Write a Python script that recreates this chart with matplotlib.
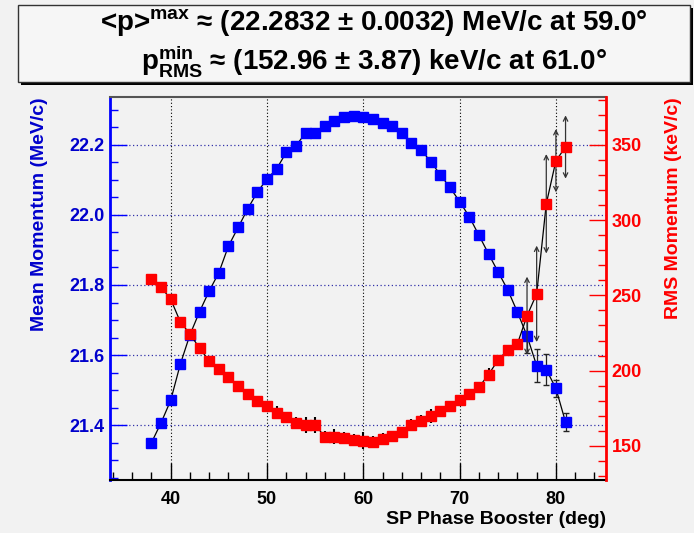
import numpy as np
import matplotlib
matplotlib.use("Agg")
import matplotlib.pyplot as plt
from matplotlib.patches import Rectangle
from matplotlib.ticker import MultipleLocator, FormatStrFormatter

plt.rcParams["font.family"] = ["Liberation Sans", "DejaVu Sans"]
plt.rcParams["font.weight"] = "bold"
plt.rcParams["axes.labelweight"] = "bold"
plt.rcParams["mathtext.fontset"] = "custom"
plt.rcParams["mathtext.rm"] = "Liberation Sans:bold"
plt.rcParams["mathtext.bf"] = "Liberation Sans:bold"
plt.rcParams["mathtext.default"] = "rm"

# SP phase booster scan
phase = np.arange(38, 82)

mean_p = [21.350, 21.407, 21.471, 21.574, 21.658, 21.724, 21.783, 21.835,
          21.911, 21.964, 22.017, 22.065, 22.102, 22.131, 22.178, 22.197,
          22.233, 22.233, 22.252, 22.267, 22.279, 22.283, 22.280, 22.272,
          22.263, 22.253, 22.233, 22.205, 22.185, 22.152, 22.114, 22.078,
          22.038, 21.995, 21.942, 21.889, 21.837, 21.786, 21.723, 21.655,
          21.570, 21.559, 21.505, 21.409]
mean_err = [0.004] * 37 + [0.008, 0.010, 0.050, 0.047, 0.044, 0.023, 0.026]
mean_err = mean_err[:44]

rms_p = [260.8, 255.4, 247.5, 232.4, 224.4, 214.9, 206.5, 201.0, 195.6, 189.9,
         184.6, 179.9, 176.6, 172.1, 169.5, 165.5, 164.0, 164.0, 156.2, 156.0,
         155.5, 154.0, 153.5, 152.96, 154.9, 156.6, 159.5, 163.8, 166.6, 169.9,
         173.5, 176.6, 180.6, 184.6, 189.0, 197.4, 207.1, 213.8, 217.8, 236.4,
         251.0, 310.8, 339.4, 348.5]
rms_err = [2, 2, 2, 2, 2, 2, 2, 2, 2, 2, 2, 2, 2, 4.5, 3, 4, 5.5, 5.5, 4, 5,
           4, 4, 5.5, 3.87, 4, 3, 3, 4, 4, 4.5, 3, 3, 3, 3, 3, 4.5, 3, 3, 3,
           26, 32, 33, 21, 21]

title_1 = r"<p>$^{max}$ ≈ (22.2832 ± 0.0032) MeV/c at 59.0°"
title_2 = r"$p^{min}_{RMS}$ ≈ (152.96 ± 3.87) keV/c at 61.0°"

bg = "#f2f2f2"
blue = "#0000ff"
red = "#ff0000"

fig = plt.figure(figsize=(6.94, 5.33), dpi=100, facecolor=bg)
ax = fig.add_axes([110 / 694, 1 - 480 / 533, 496 / 694, 383 / 533])
ax.set_facecolor(bg)
ax2 = ax.twinx()

ax.set_xlim(33.7, 85.2)
ax.set_ylim(21.244, 22.336)
ax2.set_ylim(127.4, 381.7)

# blue: mean momentum
ax.errorbar(phase, mean_p, yerr=mean_err, fmt="-", color="black", lw=0.9,
            ecolor="#222222", elinewidth=0.9, capsize=2, zorder=3)
ax.plot(phase, mean_p, "s", color=blue, ms=6.5, mec=blue, zorder=4)

# red: RMS momentum
rms_p = np.array(rms_p)
rms_err = np.array(rms_err)
small = rms_err < 10
ax2.plot(phase, rms_p, "-", color="black", lw=0.9, zorder=3)
ax2.errorbar(phase[small], rms_p[small], yerr=rms_err[small], fmt="none",
             ecolor="black", elinewidth=1.5, zorder=3)
for x, y, e in zip(phase[~small], rms_p[~small], rms_err[~small]):
    ax2.annotate("", xy=(x, y + e), xytext=(x, y - e),
                 arrowprops=dict(arrowstyle="<->", color="#333333", lw=0.9,
                                 mutation_scale=8, shrinkA=0, shrinkB=0),
                 zorder=3)
ax2.plot(phase, rms_p, "s", color=red, ms=6.5, mec=red, zorder=4)

# axes styling
ax.xaxis.set_major_locator(MultipleLocator(10))
ax.xaxis.set_minor_locator(MultipleLocator(2))
ax.yaxis.set_major_locator(MultipleLocator(0.2))
ax.yaxis.set_minor_locator(MultipleLocator(0.05))
ax.yaxis.set_major_formatter(FormatStrFormatter("%.1f"))
ax2.yaxis.set_major_locator(MultipleLocator(50))
ax2.yaxis.set_minor_locator(MultipleLocator(10))

ax.tick_params(axis="x", which="both", direction="in", top=False,
               labelsize=13, colors="black", pad=8)
ax.tick_params(axis="x", which="major", length=12, width=1)
ax.tick_params(axis="x", which="minor", length=6, width=1)
ax.tick_params(axis="y", which="both", direction="in", right=False,
               labelsize=13, colors=blue, labelcolor="#0000cc", pad=4)
ax.tick_params(axis="y", which="major", length=12, width=1)
ax.tick_params(axis="y", which="minor", length=6, width=1)
ax2.tick_params(axis="y", which="both", direction="in", labelsize=13,
                colors=red, pad=4)
ax2.tick_params(axis="y", which="major", length=12, width=1)
ax2.tick_params(axis="y", which="minor", length=6, width=1)

ax.spines["left"].set_color(blue)
ax.spines["left"].set_linewidth(2)
ax.spines["bottom"].set_color("black")
ax.spines["bottom"].set_linewidth(1.5)
ax.spines["top"].set_color("#555555")
ax.spines["top"].set_linewidth(1.5)
ax.spines["right"].set_visible(False)
ax2.spines["right"].set_color(red)
ax2.spines["right"].set_linewidth(2)
for s in ("left", "top", "bottom"):
    ax2.spines[s].set_visible(False)

ax.grid(axis="x", which="major", color="black", ls=(0, (1, 2)), lw=0.8)
ax.grid(axis="y", which="major", color="#3333aa", ls=(0, (1, 2)), lw=0.9)
ax.set_axisbelow(True)

ax.set_xlabel("SP Phase Booster (deg)", fontsize=14, fontweight="bold",
              loc="right", labelpad=2)
ax.set_ylabel("Mean Momentum (MeV/c)", fontsize=14, fontweight="bold",
              color="#0000cc", loc="top", labelpad=15)
ax2.set_ylabel("RMS Momentum (keV/c)", fontsize=14, fontweight="bold",
               color=red, loc="top", labelpad=17)

# title box with shadow
fig.patches.append(Rectangle((21 / 694, 1 - 85 / 533), 672 / 694, 77 / 533,
                             transform=fig.transFigure, facecolor="black",
                             edgecolor="none", zorder=1))
fig.patches.append(Rectangle((18 / 694, 1 - 82 / 533), 672 / 694, 77 / 533,
                             transform=fig.transFigure, facecolor="#f6f6f6",
                             edgecolor="#333333", lw=1, zorder=2))
fig.text(374 / 694, 1 - 23 / 533, title_1, ha="center", va="center",
         fontsize=20, zorder=3)
fig.text(374 / 694, 1 - 61 / 533, title_2, ha="center", va="center",
         fontsize=20, zorder=3)

fig.savefig("out.png", dpi=100, facecolor=bg)
